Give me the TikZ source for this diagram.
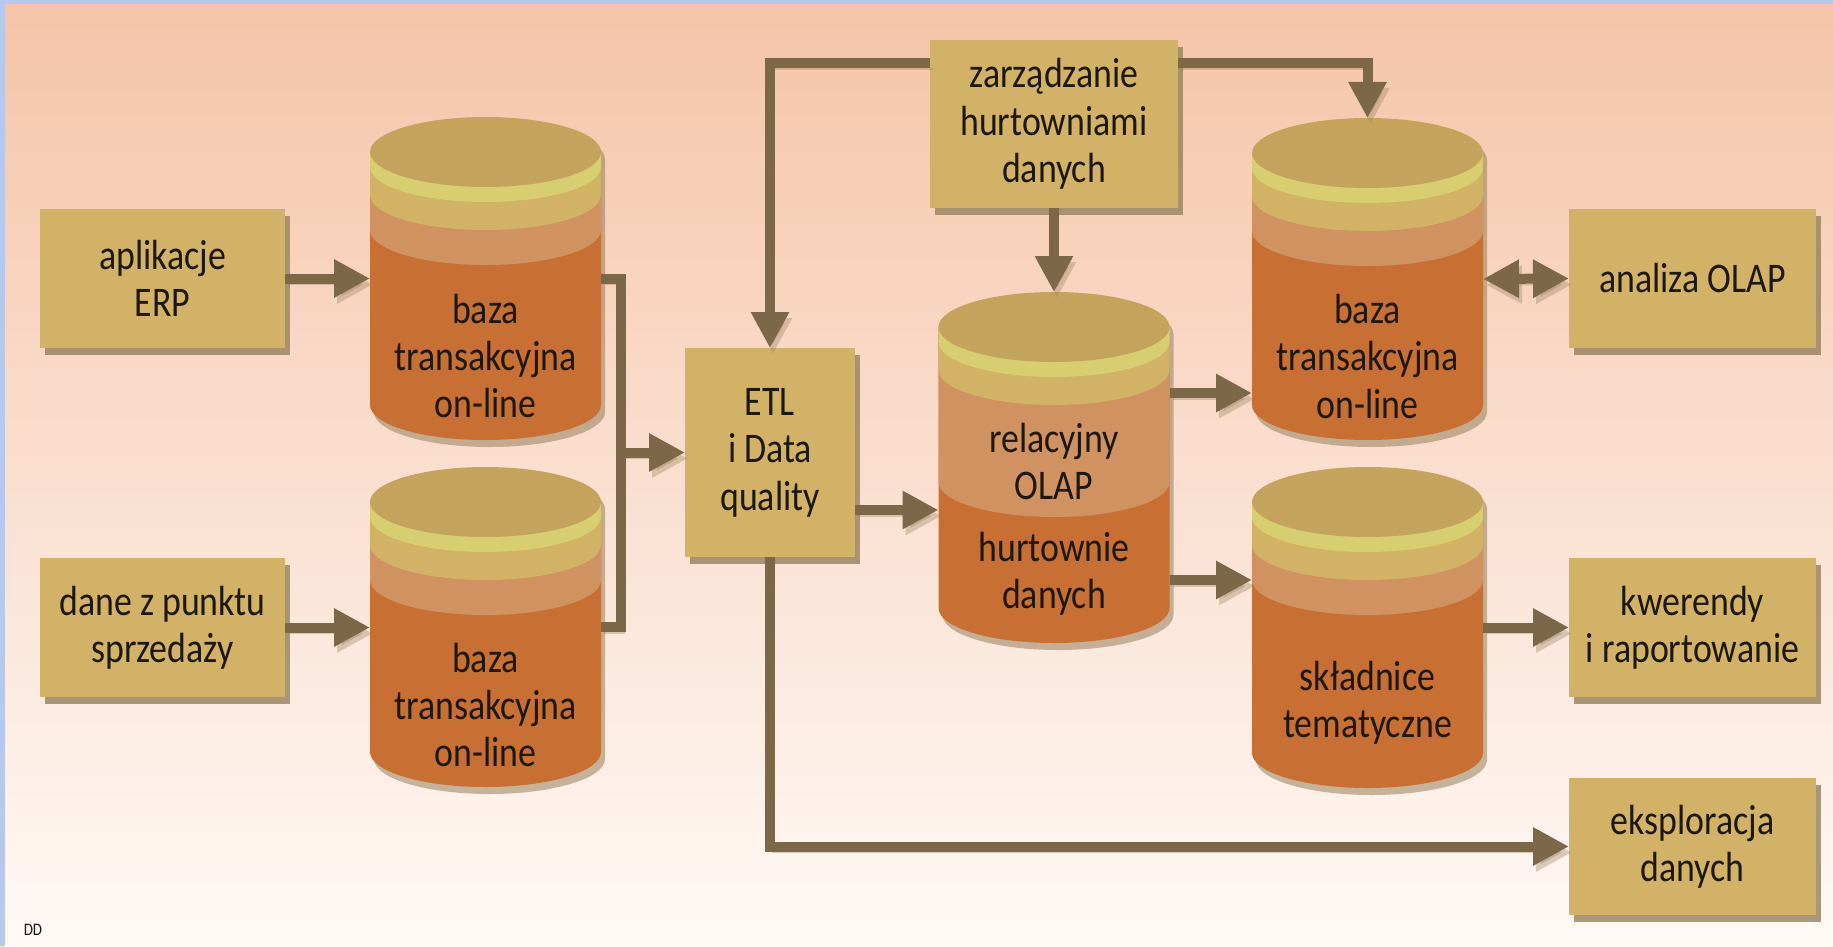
\documentclass[tikz,border=0pt]{standalone}
\usepackage{fontspec}
\setmainfont{Carlito}[FakeStretch=0.85]
\usetikzlibrary{arrows.meta, shadows}

\definecolor{bgtop}{RGB}{245,196,168}
\definecolor{bgmid}{RGB}{252,226,212}
\definecolor{bgbot}{RGB}{255,249,246}
\definecolor{edgeblue}{RGB}{182,200,236}
\definecolor{boxtan}{RGB}{210,178,102}
\definecolor{boxshade}{RGB}{150,128,92}
\definecolor{cyltop}{RGB}{196,164,92}
\definecolor{cylrim}{RGB}{214,206,112}
\definecolor{cylband}{RGB}{210,178,100}
\definecolor{cyllight}{RGB}{208,146,96}
\definecolor{cyldark}{RGB}{200,112,52}
\definecolor{pipebrown}{RGB}{124,104,72}
\definecolor{ink}{RGB}{28,24,16}

\def\cylrx{1.155}
\def\cylry{0.35}

% database drum: name, x, top, height, depth of the light band
\newcommand{\drum}[5]{
  \begin{scope}[shift={(#2,#3)}]
    \fill[boxshade, opacity=0.55, shift={(0.04,-0.07)}] (-\cylrx,-\cylry) -- (-\cylrx,{-#4+\cylry})
      arc[start angle=180, end angle=360, x radius=\cylrx, y radius=\cylry] -- (\cylrx,-\cylry)
      arc[start angle=0, end angle=180, x radius=\cylrx, y radius=\cylry] -- cycle;
    \fill[cyldark] (-\cylrx,-\cylry) -- (-\cylrx,{-#4+\cylry})
      arc[start angle=180, end angle=360, x radius=\cylrx, y radius=\cylry] -- (\cylrx,-\cylry) -- cycle;
    \fill[cyllight] (-\cylrx,-\cylry) -- (-\cylrx,{-\cylry-#5})
      arc[start angle=180, end angle=360, x radius=\cylrx, y radius=\cylry] -- (\cylrx,-\cylry) -- cycle;
    \fill[cylband] (-\cylrx,-\cylry) -- (-\cylrx,{-\cylry-0.43})
      arc[start angle=180, end angle=360, x radius=\cylrx, y radius=\cylry] -- (\cylrx,-\cylry) -- cycle;
    \fill[cylrim] (-\cylrx,-\cylry) -- (-\cylrx,{-\cylry-0.15})
      arc[start angle=180, end angle=360, x radius=\cylrx, y radius=\cylry] -- (\cylrx,-\cylry) -- cycle;
    \fill[cyltop] (0,-\cylry) ellipse [x radius=\cylrx, y radius=\cylry];
  \end{scope}
  \node[minimum width=2.31cm, minimum height=#4cm, inner sep=0pt, outer sep=0pt] (#1) at (#2,{#3-#4/2}) {};
}

\begin{document}
\begin{tikzpicture}
  \tikzstyle{txt} = [align=center, text=ink, font=\fontsize{12}{13.5}\selectfont]
  \tikzstyle{box} = [txt, rectangle, fill=boxtan, inner sep=0pt, outer sep=0pt,
    drop shadow={shadow xshift=0.5mm, shadow yshift=-0.7mm, fill=boxshade, opacity=0.8}]
  \tikzstyle{conn} = [draw=pipebrown, line width=1mm,
    preaction={draw=boxshade, opacity=0.35, transform canvas={xshift=0.3mm, yshift=-0.6mm}}]
  \tikzstyle{connto} = [conn, -{Triangle[length=3.6mm, width=3.6mm]}]
  \tikzstyle{connboth} = [conn, {Triangle[length=3.6mm, width=3.6mm]}-{Triangle[length=3.6mm, width=3.6mm]}]

  % background
  \shade[top color=bgtop, middle color=bgmid, bottom color=bgbot] (0,0) rectangle (18.33,9.46);
  \useasboundingbox (0,0) rectangle (18.33,9.46);
  \fill[edgeblue] (0,0) rectangle (0.05,9.46);
  \fill[edgeblue] (0,9.42) rectangle (18.33,9.46);

  % sources
  \node[box, minimum width=2.45cm, minimum height=1.39cm] (erp) at (1.625,6.675) {aplikacje\\ERP};
  \node[box, minimum width=2.45cm, minimum height=1.39cm] (pos) at (1.625,3.185) {dane z punktu\\sprzedaży};

  % databases
  \drum{dbA}{4.855}{8.29}{3.23}{0.78}
  \node[txt] (dbA-t) at ([yshift=-7.75mm]dbA.center) {baza\\transakcyjna\\on-line};
  \drum{dbB}{4.855}{4.79}{3.20}{0.78}
  \node[txt] (dbB-t) at ([yshift=-7.8mm]dbB.center) {baza\\transakcyjna\\on-line};
  \drum{olap}{10.54}{6.54}{3.51}{1.55}
  \node[txt] (olap-t) at ([yshift=0.6mm]olap.center) {relacyjny\\OLAP};
  \node[txt] (dw-t) at ([yshift=-10.65mm]olap.center) {hurtownie\\danych};
  \drum{dbC}{13.675}{8.28}{3.22}{0.78}
  \node[txt] (dbC-t) at ([yshift=-7.75mm]dbC.center) {baza\\transakcyjna\\on-line};
  \drum{marts}{13.675}{4.79}{3.21}{0.78}
  \node[txt] (marts-t) at ([yshift=-7.5mm]marts.center) {składnice\\tematyczne};

  % processing and outputs
  \node[box, minimum width=1.70cm, minimum height=2.09cm] (etl) at (7.70,4.935) {ETL\\i Data\\quality};
  \node[box, minimum width=2.48cm, minimum height=1.68cm] (mgmt) at (10.54,8.22) {zarządzanie\\hurtowniami\\danych};
  \node[box, minimum width=2.47cm, minimum height=1.39cm] (olapan) at (16.925,6.675) {analiza OLAP};
  \node[box, minimum width=2.47cm, minimum height=1.39cm] (query) at (16.925,3.185) {kwerendy\\i raportowanie};
  \node[box, minimum width=2.47cm, minimum height=1.37cm] (mining) at (16.925,0.995) {eksploracja\\danych};
  \node[text=ink, font=\fontsize{5}{6}\selectfont] (dd) at (0.33,0.16) {DD};

  \path (etl.west) ++(-0.64,0) coordinate (join);

  % connections
  \draw[connto] (erp.east) -- (erp.east -| dbA.west);
  \draw[connto] (pos.east) -- (pos.east -| dbB.west);
  \draw[conn] (dbA.east) -| (join) |- (dbB.east);
  \draw[connto] (join) -- (etl.west);
  \draw[connto] ([yshift=-5.75mm]etl.east) -- ([yshift=-5.75mm]etl.east -| olap.west);
  \draw[connto] (mgmt.south) -- (olap.north);
  \draw[connto] ([yshift=6.1mm]mgmt.west) -| (etl.north);
  \draw[connto] ([yshift=6.1mm]mgmt.east) -| (dbC.north);
  \draw[connto] ([yshift=7.45mm]olap.east) -- ([yshift=7.45mm]olap.east -| dbC.west);
  \draw[connto] ([yshift=-11.25mm]olap.east) -- ([yshift=-11.25mm]olap.east -| marts.west);
  \draw[connboth] (dbC.east) -- (olapan.west);
  \draw[connto] (marts.east) -- (query.west);
  \draw[connto] (etl.south) |- (mining.west);
\end{tikzpicture}
\end{document}
